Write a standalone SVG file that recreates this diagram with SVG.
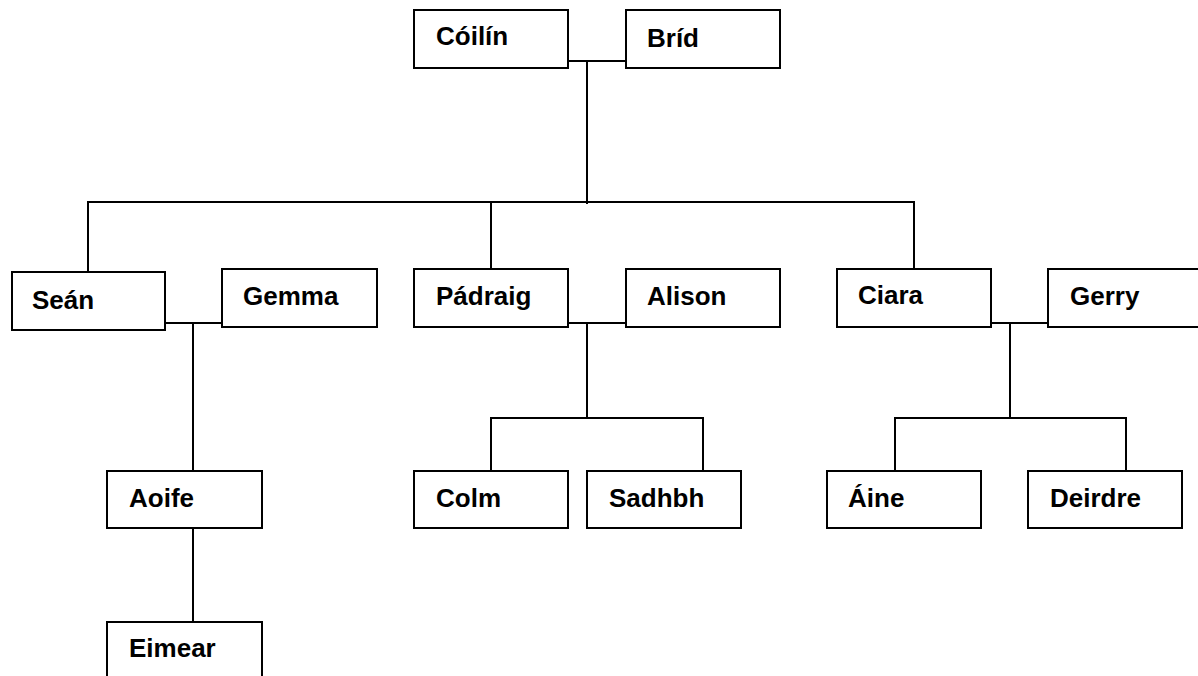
<svg xmlns="http://www.w3.org/2000/svg" width="1198" height="676" viewBox="0 0 1198 676">
<style>
.box{fill:#fff;stroke:#000;stroke-width:2}
.lbl{font-family:"Liberation Sans",Arial,sans-serif;font-weight:bold;font-size:26px;fill:#000}
.con{fill:none;stroke:#000;stroke-width:2}
</style>
<rect width="1198" height="676" fill="#fff"/>
<g id="connectors" class="con">
<path d="M568 61H626M587 61V204"/>
<path d="M88 271V202H914V269M491 202V269"/>
<path d="M165 323H222M193 323V471M193 528V622"/>
<path d="M568 323H626M587 323V418M491 471V418H703V471"/>
<path d="M991 323H1048M1010 323V418M895 471V418H1126V471"/>
</g>
<g id="coilin"><rect class="box" x="414" y="10" width="154" height="58"/><text class="lbl" x="436" y="45">Cóilín</text></g>
<g id="brid"><rect class="box" x="626" y="10" width="154" height="58"/><text class="lbl" x="647" y="47">Bríd</text></g>
<g id="sean"><rect class="box" x="12" y="272" width="153" height="58"/><text class="lbl" x="32" y="309">Seán</text></g>
<g id="gemma"><rect class="box" x="222" y="269" width="155" height="58"/><text class="lbl" x="243" y="305">Gemma</text></g>
<g id="padraig"><rect class="box" x="414" y="269" width="154" height="58"/><text class="lbl" x="436" y="305">Pádraig</text></g>
<g id="alison"><rect class="box" x="626" y="269" width="154" height="58"/><text class="lbl" x="647" y="305">Alison</text></g>
<g id="ciara"><rect class="box" x="837" y="269" width="154" height="58"/><text class="lbl" x="858" y="304">Ciara</text></g>
<g id="gerry"><rect class="box" x="1048" y="269" width="156" height="58"/><text class="lbl" x="1070" y="305">Gerry</text></g>
<g id="aoife"><rect class="box" x="107" y="471" width="155" height="57"/><text class="lbl" x="129" y="507">Aoife</text></g>
<g id="eimear"><rect class="box" x="107" y="622" width="155" height="60"/><text class="lbl" x="129" y="657">Eimear</text></g>
<g id="colm"><rect class="box" x="414" y="471" width="154" height="57"/><text class="lbl" x="436" y="507">Colm</text></g>
<g id="sadhbh"><rect class="box" x="587" y="471" width="154" height="57"/><text class="lbl" x="609" y="507">Sadhbh</text></g>
<g id="aine"><rect class="box" x="827" y="471" width="154" height="57"/><text class="lbl" x="848" y="507">Áine</text></g>
<g id="deirdre"><rect class="box" x="1028" y="471" width="154" height="57"/><text class="lbl" x="1050" y="507">Deirdre</text></g>
</svg>
